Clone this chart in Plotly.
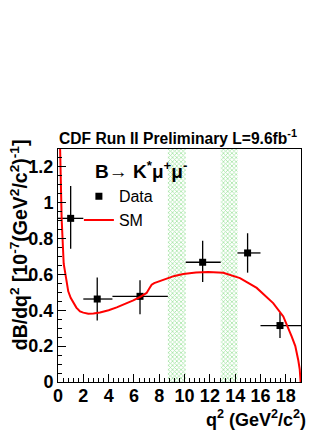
import plotly.graph_objects as go

# ---------------- data ----------------
data_q2 = [1.0, 3.1, 6.48, 11.43, 14.98, 17.54]
data_lo = [0.0, 2.0, 4.3, 10.09, 14.18, 16.0]
data_hi = [2.0, 4.3, 8.68, 12.86, 16.0, 19.2]
data_val = [0.913, 0.463, 0.478, 0.668, 0.72, 0.315]
data_err_up = [0.18, 0.12, 0.09, 0.12, 0.11, 0.07]
data_err_dn = [0.17, 0.12, 0.10, 0.11, 0.11, 0.07]

sm_q2 = [0.12, 0.16, 0.29, 0.45, 0.81, 1.0, 1.21, 1.45, 1.74, 2.0, 2.39, 2.8,
         3.32, 4.0, 4.64, 5.3, 5.95, 6.5, 7.0, 7.2, 7.4, 7.6, 8.0, 8.59,
         9.2, 9.9, 10.9, 11.87, 13.06, 14.38, 15.7, 17.0, 17.8, 18.46,
         18.75, 18.98, 19.1, 19.17]
sm_val = [1.45, 1.30, 0.908, 0.66, 0.506, 0.47, 0.441, 0.415, 0.394, 0.387,
          0.381, 0.382, 0.388, 0.400, 0.416, 0.435, 0.455, 0.475, 0.497,
          0.52, 0.543, 0.552, 0.562, 0.58, 0.592, 0.603, 0.611, 0.614,
          0.609, 0.58, 0.525, 0.44, 0.366, 0.254, 0.2, 0.123, 0.07, 0.0]

veto_lo = [8.68, 12.86]
veto_hi = [10.09, 14.18]
y_max = 1.3

fig = go.Figure()

# charmonium veto bands (hatched green)
fig.add_trace(go.Bar(
    x=[(a + b) / 2 for a, b in zip(veto_lo, veto_hi)],
    y=[y_max] * len(veto_lo),
    width=[b - a for a, b in zip(veto_lo, veto_hi)],
    marker=dict(color="rgba(0,0,0,0)", line=dict(width=0),
                pattern=dict(shape="x", fgcolor="#4ccc4c", bgcolor="white",
                             size=3, solidity=0.45)),
    showlegend=False, hoverinfo="skip",
))

fig.add_trace(go.Scatter(
    x=data_q2, y=data_val, mode="markers", name="Data",
    marker=dict(symbol="square", size=7, color="black"),
    error_x=dict(type="data", symmetric=False,
                 array=[h - x for h, x in zip(data_hi, data_q2)],
                 arrayminus=[x - l for x, l in zip(data_q2, data_lo)],
                 color="black", thickness=1.3, width=0),
    error_y=dict(type="data", symmetric=False, array=data_err_up,
                 arrayminus=data_err_dn, color="black", thickness=1.3, width=0),
))

fig.add_trace(go.Scatter(
    x=sm_q2, y=sm_val, mode="lines", name="SM",
    line=dict(color="#ff0000", width=2),
))

axis_font = dict(family="Liberation Sans", size=18, color="black", weight="bold")

# page body has an 8px default margin, so the figure is 8px smaller
fig.update_layout(
    width=324, height=422,
    margin=dict(l=50, r=31, t=141, b=48),
    paper_bgcolor="white", plot_bgcolor="white",
    barmode="overlay",
    font=dict(family="Liberation Sans", color="black"),
    legend=dict(
        x=0.086, y=0.87, xanchor="left", yanchor="top",
        bgcolor="rgba(0,0,0,0)",
        font=dict(size=16),
        itemwidth=30, tracegroupgap=0,
    ),
    xaxis=dict(
        range=[0, 19.2], showgrid=False, zeroline=False,
        showline=True, linecolor="black", linewidth=1, mirror=True,
        ticks="inside", ticklen=8, tickcolor="black", tick0=0, dtick=2,
        tickfont=axis_font, ticklabelstandoff=-3,
        minor=dict(ticks="inside", ticklen=4, dtick=0.4, tickcolor="black"),
    ),
    yaxis=dict(
        range=[0, y_max], showgrid=False, zeroline=False,
        showline=True, linecolor="black", linewidth=1, mirror=True,
        ticks="inside", ticklen=8, tickcolor="black", tick0=0, dtick=0.2,
        tickfont=axis_font,
        minor=dict(ticks="inside", ticklen=4, dtick=0.05, tickcolor="black"),
    ),
    annotations=[
        dict(text="CDF Run II Preliminary L=9.6fb<sup>-1</sup>",
             xref="paper", yref="paper", x=-0.005, y=1.0,
             xanchor="left", yanchor="bottom", showarrow=False,
             font=dict(size=15.6, weight="bold")),
        dict(text="B\u2192 K<sup>*</sup>\u03bc<sup>+</sup>\u03bc<sup>-</sup>",
             xref="paper", yref="paper", x=0.144, y=0.91,
             xanchor="left", yanchor="middle", showarrow=False,
             font=dict(size=19, weight="bold")),
        dict(text="dB/dq<sup>2</sup> [10<sup>-7</sup>(GeV<sup>2</sup>/c<sup>2</sup>)<sup>-1</sup>]",
             xref="paper", yref="paper", x=-0.163, y=1.05,
             xanchor="center", yanchor="top", textangle=-90, showarrow=False,
             font=dict(size=19.5, weight="bold")),
        dict(text="q<sup>2</sup> (GeV<sup>2</sup>/c<sup>2</sup>)",
             xref="paper", yref="paper", x=1.03, y=-0.155,
             xanchor="right", yanchor="middle", showarrow=False,
             font=dict(size=18, weight="bold")),
    ],
)

fig.write_html("out.html")
